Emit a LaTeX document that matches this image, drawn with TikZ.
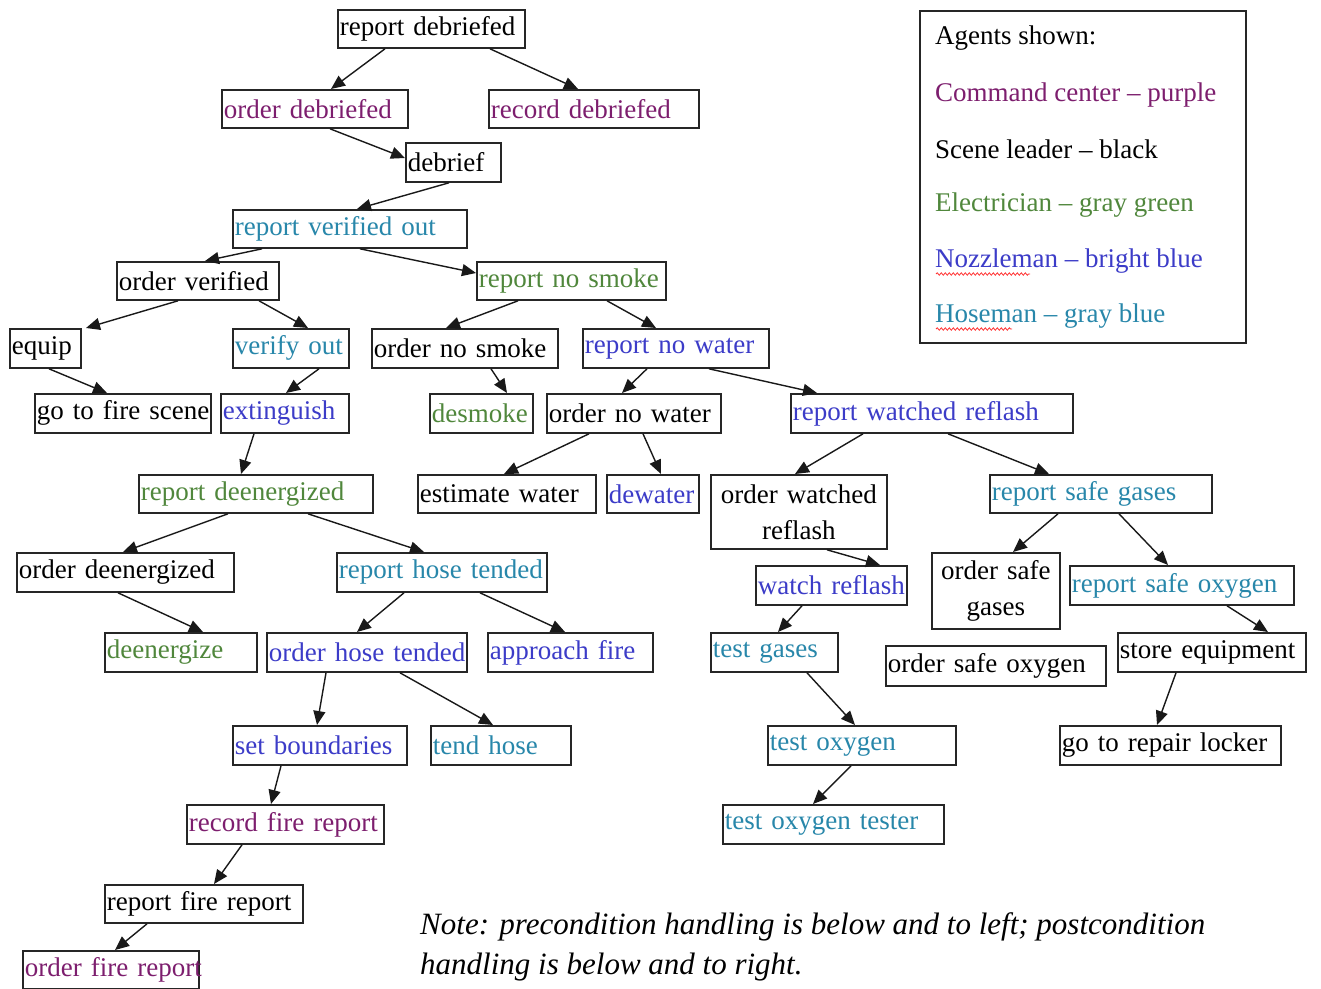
\documentclass[tikz,border=0pt]{standalone}
\usepackage{fontspec}
\setmainfont{Liberation Serif}
\usetikzlibrary{arrows.meta,decorations.pathmorphing}
\definecolor{cpurple}{RGB}{125,30,110}
\definecolor{cgreen}{RGB}{80,135,60}
\definecolor{cbright}{RGB}{60,60,200}
\definecolor{cgrayblue}{RGB}{40,135,170}
\newcommand{\mybox}[7]{%
  \pgfmathsetmacro{\bxw}{#4-#2}\pgfmathsetmacro{\bxh}{#5-#3}\pgfmathsetmacro{\bxt}{#4-#2-4}%
  \node[box,#6,minimum width=\bxw pt,minimum height=\bxh pt,text width=\bxt pt] (#1) at (#2,#3) {\mbox{#7}};}
\newcommand{\mytwobox}[7]{%
  \pgfmathsetmacro{\bxw}{#4-#2}\pgfmathsetmacro{\bxh}{#5-#3}\pgfmathsetmacro{\bxt}{#4-#2-4}%
  \node[box,#6,align=center,minimum width=\bxw pt,minimum height=\bxh pt,text width=\bxt pt] (#1) at (#2,#3) {#7};}
\newcommand{\arr}[4]{\draw[conn] ([xshift=#2pt]#1.south west) -- ([xshift=#4pt]#3.north west);}
\begin{document}
\begin{tikzpicture}[x=1pt,y=-1pt,
  box/.style={draw=black!85,line width=1.8pt,inner xsep=2pt,inner ysep=0pt,anchor=north west,align=left,
    font=\fontsize{27}{36}\selectfont},
  conn/.style={draw=black!90,line width=1.4pt,-{Triangle[length=14pt,width=12pt]}},
  legtext/.style={anchor=west,inner sep=0pt,font=\fontsize{27}{32}\selectfont},
  notetext/.style={anchor=west,inner sep=0pt,font=\fontsize{31}{34}\selectfont\itshape},
  squig/.style={draw=red!80,line width=0.8pt,decorate,decoration={snake,amplitude=1.2pt,segment length=4pt}}]
\useasboundingbox (0,0) rectangle (1321,988);
\fill[white] (0,0) rectangle (1321,988);
% nodes
\mybox{rd}{337}{9}{524}{47}{text=black}{report debriefed}
\mybox{od}{221}{89}{407}{127}{text=cpurple}{order debriefed}
\mybox{recd}{488}{89}{698}{127}{text=cpurple}{record debriefed}
\mybox{db}{405}{142}{500}{181}{text=black}{debrief}
\mybox{rvo}{232}{209}{466}{247}{text=cgrayblue}{report verified out}
\mybox{ov}{116}{261}{278}{299}{text=black}{order verified}
\mybox{rns}{476}{261}{665}{299}{text=cgreen}{report no smoke}
\mybox{equip}{9}{328}{80}{367}{text=black}{equip}
\mybox{vo}{232}{328}{348}{367}{text=cgrayblue}{verify out}
\mybox{ons}{371}{328}{557}{367}{text=black}{order no smoke}
\mybox{rnw}{582}{328}{768}{367}{text=cbright}{report no water}
\mybox{gtfs}{34}{393}{210}{432}{text=black}{go to fire scene}
\mybox{ext}{220}{393}{348}{432}{text=cbright}{extinguish}
\mybox{dsm}{429}{393}{532}{432}{text=cgreen}{desmoke}
\mybox{onw}{546}{393}{720}{432}{text=black}{order no water}
\mybox{rwr}{790}{393}{1072}{432}{text=cbright}{report watched reflash}
\mybox{rde}{138}{474}{372}{512}{text=cgreen}{report deenergized}
\mybox{ew}{417}{474}{595}{512}{text=black}{estimate water}
\mybox{dw}{606}{474}{698}{512}{text=cbright}{dewater}
\mytwobox{owr}{710}{474}{886}{548}{text=black}{order watched\\reflash}
\mybox{rsg}{989}{474}{1211}{512}{text=cgrayblue}{report safe gases}
\mybox{odz}{16}{552}{233}{591}{text=black}{order deenergized}
\mybox{rht}{336}{552}{546}{591}{text=cgrayblue}{report hose tended}
\mybox{wr}{755}{565}{906}{604}{text=cbright}{watch reflash}
\mytwobox{osg}{931}{552}{1059}{628}{text=black}{order safe\\gases}
\mybox{rso}{1069}{565}{1293}{604}{text=cgrayblue}{report safe oxygen}
\mybox{de}{104}{632}{256}{671}{text=cgreen}{deenergize}
\mybox{oht}{266}{632}{466}{671}{text=cbright}{order hose tended}
\mybox{af}{487}{632}{652}{671}{text=cbright}{approach fire}
\mybox{tg}{710}{632}{837}{671}{text=cgrayblue}{test gases}
\mybox{oso}{885}{645}{1105}{685}{text=black}{order safe oxygen}
\mybox{se}{1117}{632}{1305}{671}{text=black}{store equipment}
\mybox{sb}{232}{725}{406}{764}{text=cbright}{set boundaries}
\mybox{th}{430}{725}{570}{764}{text=cgrayblue}{tend hose}
\mybox{to}{767}{725}{955}{764}{text=cgrayblue}{test oxygen}
\mybox{grl}{1059}{725}{1280}{764}{text=black}{go to repair locker}
\mybox{rfr}{186}{804}{383}{843}{text=cpurple}{record fire report}
\mybox{tot}{722}{804}{943}{843}{text=cgrayblue}{test oxygen tester}
\mybox{rptfr}{104}{884}{302}{922}{text=black}{report fire report}
\mybox{ofr}{22}{950}{198}{988}{text=cpurple}{order fire report}
% connectors
\arr{rd}{48}{od}{110}
\arr{rd}{153}{recd}{90}
\draw[conn] ([xshift=109pt]od.south west) -- ([yshift=-16pt]db.north west);
\arr{db}{44}{rvo}{125}
\arr{rvo}{30}{ov}{89}
\draw[conn] ([xshift=128pt]rvo.south west) -- ([yshift=-12pt]rns.north west);
\arr{ov}{62}{equip}{77}
\arr{ov}{143}{vo}{76}
\arr{equip}{40}{gtfs}{73}
\arr{vo}{87}{ext}{66}
\arr{ext}{34}{rde}{103}
\arr{rns}{42}{ons}{75}
\arr{rns}{131}{rnw}{74}
\arr{ons}{120}{dsm}{78}
\arr{rnw}{65}{onw}{76}
\arr{rnw}{127}{rwr}{27}
\arr{onw}{43}{ew}{87}
\arr{onw}{97}{dw}{55}
\arr{rwr}{73}{owr}{85}
\arr{rwr}{158}{rsg}{60}
\arr{rde}{90}{odz}{107}
\arr{rde}{170}{rht}{88}
\arr{odz}{102}{de}{99}
\arr{rht}{68}{oht}{91}
\arr{rht}{144}{af}{78}
\arr{oht}{60}{sb}{85}
\arr{oht}{134}{th}{63}
\arr{owr}{117}{wr}{125}
\arr{wr}{47}{tg}{68}
\arr{tg}{97}{to}{88}
\arr{to}{84}{tot}{91}
\arr{rsg}{69}{osg}{82}
\arr{rsg}{130}{rso}{99}
\arr{rso}{158}{se}{151}
\arr{se}{59}{grl}{98}
\arr{sb}{49}{rfr}{85}
\arr{rfr}{56}{rptfr}{110}
\arr{rptfr}{43}{ofr}{93}
% legend
\node[draw=black!85,line width=1.8pt,anchor=north west,minimum width=326pt,minimum height=332pt,inner sep=0pt] (legend) at (919,10) {};
\node[legtext] (l0) at (935,38) {Agents shown:};
\node[legtext,text=cpurple] (l1) at (935,95) {Command center – purple};
\node[legtext] (l2) at (935,149) {Scene leader – black};
\node[legtext,text=cgreen] (l3) at (935,205) {Electrician – gray green};
\node[legtext,text=cbright] (l4) at (935,261) {Nozzleman – bright blue};
\node[legtext,text=cgrayblue] (l5) at (935,316) {Hoseman – gray blue};
\draw[squig] (936,274) -- (1030,274);
\draw[squig] (936,329) -- (1012,329);
% note
\node[notetext] (n1) at (420,927) {Note: precondition handling is below and to left; postcondition};
\node[notetext] (n2) at (420,967) {handling is below and to right.};
\end{tikzpicture}
\end{document}
